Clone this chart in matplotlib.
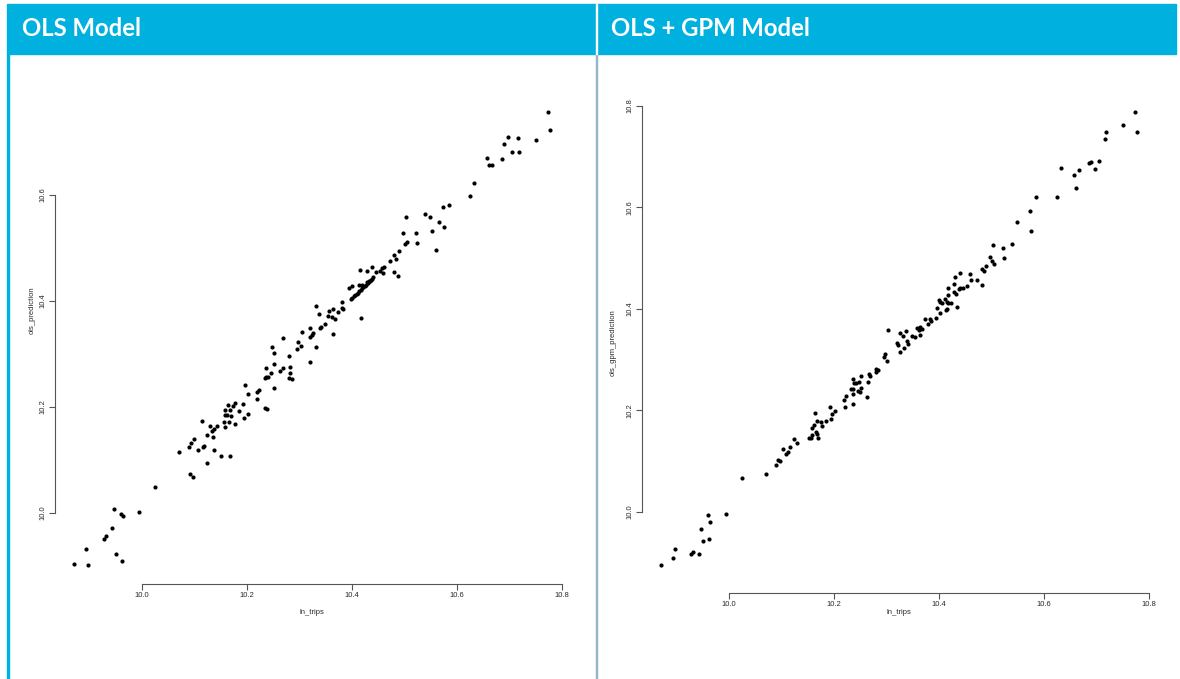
import matplotlib
matplotlib.use("Agg")
import matplotlib.pyplot as plt
from matplotlib.patches import Rectangle

# --- OLS model: ln_trips vs ols_prediction ---
ols_trips = [9.870, 9.898, 9.894, 9.928, 9.931, 9.943, 9.947, 9.950, 9.961, 9.962,
             9.965, 9.994, 10.026,
             10.251, 10.281, 10.321, 10.251, 10.236, 10.269, 10.283, 10.263, 10.246, 10.282,
             10.236, 10.241, 10.234, 10.281, 10.286, 10.196, 10.251, 10.223, 10.220, 10.203,
             10.220, 10.178, 10.164, 10.174, 10.192, 10.235, 10.238, 10.158, 10.168, 10.185,
             10.202, 10.158, 10.163, 10.169, 10.194, 10.114, 10.157, 10.166, 10.177, 10.130,
             10.143, 10.159, 10.137, 10.133, 10.124, 10.136, 10.099, 10.093, 10.090, 10.119,
             10.116, 10.107, 10.138, 10.070, 10.151, 10.168, 10.125, 10.091, 10.098,
             10.585, 10.573, 10.504, 10.539, 10.549, 10.566, 10.575, 10.552, 10.498, 10.522,
             10.506, 10.502, 10.524, 10.561, 10.489, 10.481, 10.484, 10.472, 10.461, 10.458,
             10.438, 10.415, 10.428, 10.447, 10.453, 10.459, 10.481, 10.488, 10.434, 10.429,
             10.420, 10.414, 10.401, 10.394, 10.382, 10.331, 10.357, 10.364, 10.373, 10.381,
             10.384, 10.337, 10.355, 10.362, 10.368, 10.417, 10.349, 10.342, 10.340, 10.321,
             10.305, 10.326, 10.324, 10.364, 10.321, 10.269, 10.298, 10.303, 10.295, 10.332,
             10.248,
             10.398, 10.401, 10.404, 10.406, 10.409, 10.412, 10.414, 10.417, 10.419, 10.422,
             10.425, 10.427, 10.430, 10.433, 10.436, 10.438, 10.441,
             10.774, 10.777, 10.698, 10.716, 10.690, 10.751, 10.705, 10.718, 10.657, 10.686,
             10.661, 10.667, 10.632, 10.625]
ols_pred = [9.904, 9.901, 9.932, 9.951, 9.957, 9.972, 10.007, 9.923, 9.999, 9.909,
            9.994, 10.001, 10.050,
            10.302, 10.297, 10.284, 10.282, 10.274, 10.274, 10.276, 10.267, 10.264, 10.265,
            10.257, 10.256, 10.254, 10.255, 10.253, 10.242, 10.235, 10.233, 10.228, 10.224,
            10.215, 10.208, 10.204, 10.202, 10.206, 10.199, 10.197, 10.195, 10.194, 10.192,
            10.187, 10.184, 10.184, 10.183, 10.180, 10.174, 10.172, 10.172, 10.167, 10.164,
            10.164, 10.163, 10.159, 10.155, 10.148, 10.144, 10.140, 10.133, 10.125, 10.126,
            10.125, 10.119, 10.118, 10.116, 10.107, 10.107, 10.095, 10.074, 10.068,
            10.581, 10.577, 10.559, 10.564, 10.558, 10.550, 10.540, 10.532, 10.529, 10.529,
            10.512, 10.508, 10.509, 10.496, 10.494, 10.487, 10.480, 10.475, 10.465, 10.462,
            10.465, 10.458, 10.457, 10.454, 10.457, 10.453, 10.455, 10.447, 10.438, 10.436,
            10.430, 10.430, 10.428, 10.424, 10.399, 10.390, 10.382, 10.384, 10.379, 10.387,
            10.385, 10.375, 10.371, 10.369, 10.366, 10.368, 10.357, 10.351, 10.350, 10.350,
            10.342, 10.340, 10.336, 10.338, 10.333, 10.331, 10.323, 10.316, 10.309, 10.313,
            10.314,
            10.403, 10.406, 10.409, 10.411, 10.413, 10.416, 10.419, 10.421, 10.424, 10.426,
            10.429, 10.431, 10.434, 10.437, 10.439, 10.442, 10.445,
            10.756, 10.722, 10.709, 10.707, 10.696, 10.704, 10.681, 10.682, 10.670, 10.667,
            10.656, 10.656, 10.623, 10.599]

# --- OLS + GPM model: ln_trips vs ols_gpm_prediction ---
gpm_trips = [9.961, 9.994, 9.965, 9.948, 9.950, 9.962, 9.898, 9.894, 9.928, 9.932,
             9.943, 9.870, 10.025,
             10.774, 10.751, 10.718, 10.777, 10.716, 10.705, 10.686, 10.690, 10.632, 10.698,
             10.667, 10.657, 10.661, 10.585, 10.625, 10.573, 10.575,
             10.549, 10.504, 10.522, 10.540, 10.498, 10.525, 10.502, 10.506, 10.489, 10.482,
             10.487, 10.440, 10.460, 10.430, 10.461, 10.472, 10.482, 10.428, 10.418, 10.438,
             10.441, 10.447, 10.453, 10.428, 10.432, 10.417, 10.411, 10.401, 10.403, 10.418,
             10.424, 10.407, 10.415, 10.396, 10.434, 10.416, 10.414, 10.402, 10.394, 10.383,
             10.373, 10.386, 10.380, 10.358, 10.364, 10.368, 10.362, 10.304, 10.326, 10.337,
             10.331, 10.349, 10.354, 10.364, 10.340, 10.321, 10.322, 10.342, 10.333, 10.326,
             10.298, 10.295, 10.302, 10.281, 10.284, 10.281, 10.267, 10.269, 10.251, 10.236,
             10.239, 10.243, 10.248, 10.265, 10.233, 10.237, 10.252, 10.249, 10.246, 10.236,
             10.263, 10.223, 10.220, 10.237, 10.221, 10.192, 10.203, 10.196, 10.164, 10.194,
             10.168, 10.175, 10.185, 10.163, 10.178, 10.159, 10.166, 10.168, 10.158, 10.170,
             10.152, 10.156, 10.124,
             10.093, 10.090, 10.097, 10.109, 10.116, 10.130, 10.103, 10.112, 10.070]
gpm_pred = [9.994, 9.995, 9.980, 9.966, 9.943, 9.947, 9.926, 9.909, 9.917, 9.921,
            9.916, 9.895, 10.067,
            10.788, 10.763, 10.748, 10.749, 10.735, 10.691, 10.688, 10.689, 10.677, 10.676,
            10.673, 10.664, 10.638, 10.620, 10.620, 10.593, 10.554,
            10.571, 10.526, 10.521, 10.527, 10.502, 10.500, 10.494, 10.489, 10.484, 10.478,
            10.474, 10.470, 10.469, 10.462, 10.457, 10.457, 10.447, 10.449, 10.442, 10.439,
            10.441, 10.441, 10.445, 10.433, 10.430, 10.428, 10.420, 10.418, 10.413, 10.412,
            10.412, 10.411, 10.413, 10.401, 10.403, 10.400, 10.397, 10.392, 10.382, 10.381,
            10.380, 10.376, 10.370, 10.363, 10.365, 10.361, 10.359, 10.358, 10.353, 10.356,
            10.347, 10.347, 10.344, 10.348, 10.336, 10.332, 10.329, 10.330, 10.323, 10.315,
            10.311, 10.305, 10.298, 10.282, 10.279, 10.276, 10.271, 10.267, 10.267, 10.262,
            10.254, 10.254, 10.256, 10.255, 10.243, 10.243, 10.244, 10.237, 10.238, 10.233,
            10.226, 10.229, 10.221, 10.212, 10.207, 10.206, 10.198, 10.193, 10.194, 10.182,
            10.179, 10.177, 10.179, 10.172, 10.169, 10.165, 10.158, 10.154, 10.152, 10.146,
            10.145, 10.145, 10.144,
            10.102, 10.093, 10.100, 10.114, 10.128, 10.136, 10.124, 10.118, 10.075]

W, H = 1180, 679
HEADER = "#00B1DF"

fig = plt.figure(figsize=(W / 100, H / 100), dpi=100)
fig.patch.set_facecolor("white")


def px_axes(x0, x1, y0, y1):
    return fig.add_axes([x0 / W, 1 - y1 / H, (x1 - x0) / W, (y1 - y0) / H])


def style_axes(ax, x, y, xlim, ylim, ybounds, ylab, ylab_px, xlab_px, box):
    x0, x1, y0, y1 = box
    ax.scatter(x, y, s=9, color="black", linewidths=0)
    ax.set_xlim(*xlim)
    ax.set_ylim(*ylim)
    for s in ["top", "right"]:
        ax.spines[s].set_visible(False)
    for s in ["left", "bottom"]:
        ax.spines[s].set_color("#555555")
        ax.spines[s].set_linewidth(0.8)
    ax.spines["bottom"].set_bounds(10.0, 10.8)
    ax.spines["left"].set_bounds(*ybounds)
    ax.set_xticks([10.0, 10.2, 10.4, 10.6, 10.8])
    yt = [round(10.0 + 0.2 * i, 1) for i in range(int(round((ybounds[1] - 10.0) / 0.2)) + 1)]
    ax.set_yticks(yt)
    ax.set_xticklabels(["%.1f" % v for v in ax.get_xticks()])
    ax.set_yticklabels(["%.1f" % v for v in yt], rotation=90, va="center")
    ax.tick_params(length=4.5, width=0.8, color="#555555", labelsize=5.5,
                   labelcolor="#2a2a2a", pad=1.5)
    ax.set_facecolor("white")
    ax.set_xlabel("ln_trips", fontsize=5.5, color="#2a2a2a")
    ax.set_ylabel(ylab, fontsize=5.5, color="#2a2a2a")
    ax.xaxis.label.set_va("center")
    ax.yaxis.label.set_va("center")
    ax.xaxis.set_label_coords((xlab_px[0] - x0) / (x1 - x0), 1 - (xlab_px[1] - y0) / (y1 - y0))
    ax.yaxis.set_label_coords((ylab_px[0] - x0) / (x1 - x0), 1 - (ylab_px[1] - y0) / (y1 - y0))


plt.rcParams["font.family"] = ["Liberation Sans", "DejaVu Sans"]

box1 = (54.9, 568.8, 94.3, 583.5)
ax1 = px_axes(*box1)
style_axes(ax1, ols_trips, ols_pred, (9.8345, 10.8133), (9.867, 10.79), (10.0, 10.6),
           "ols_prediction", (32, 310), (311.8, 613), box1)

box2 = (641.9, 1155.8, 93.8, 593.0)
ax2 = px_axes(*box2)
style_axes(ax2, gpm_trips, gpm_pred, (9.8345, 10.8133), (9.840, 10.824), (10.0, 10.8),
           "ols_gpm_prediction", (613, 343), (898.9, 613), box2)

# header bar and panel borders
fig.patches.append(Rectangle((7 / W, 1 - 54 / H), (1176 - 7) / W, 50 / H,
                             transform=fig.transFigure, color=HEADER, zorder=5))
fig.patches.append(Rectangle((595.5 / W, 1 - 54 / H), 1.2 / W, 50 / H,
                             transform=fig.transFigure, color="white", zorder=6))
fig.patches.append(Rectangle((7 / W, 0), 2.2 / W, 1 - 54 / H,
                             transform=fig.transFigure, color=HEADER, zorder=5))
fig.patches.append(Rectangle((595.5 / W, 0), 1.0 / W, 1 - 54 / H,
                             transform=fig.transFigure, color="#8fb7c8", zorder=5))

fig.text(22 / W, 1 - 29 / H, "OLS Model", color="white", fontsize=17.2, fontweight="bold",
         family=["Lato", "DejaVu Sans"], va="center", ha="left", zorder=7)
fig.text(611 / W, 1 - 29 / H, "OLS + GPM Model", color="white", fontsize=17.2,
         fontweight="bold", family=["Lato", "DejaVu Sans"], va="center", ha="left", zorder=7)

fig.savefig("out.png", dpi=100, facecolor="white")
